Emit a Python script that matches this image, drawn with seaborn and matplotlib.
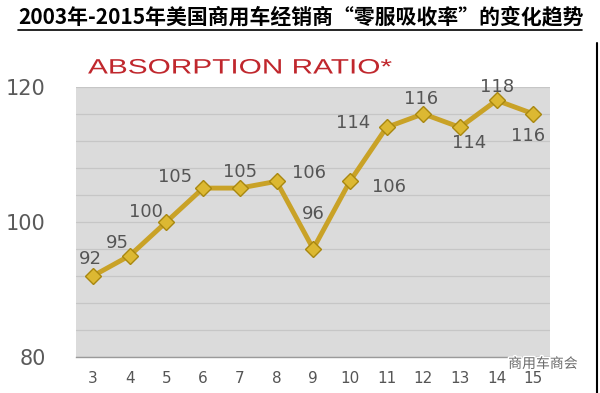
import matplotlib
matplotlib.use('Agg')
import numpy as np
import pandas as pd
import matplotlib.pyplot as plt
import seaborn as sns
from matplotlib import patheffects
from matplotlib.lines import Line2D
from matplotlib.transforms import Affine2D

# data
years = [3, 4, 5, 6, 7, 8, 9, 10, 11, 12, 13, 14, 15]
ratio = [92, 95, 100, 105, 105, 106, 96, 106, 114, 116, 114, 118, 116]
y_ticks = [80, 100, 120]
title_text = '2003年-2015年美国商用车经销商“零服吸收率”的变化趋势'
series_title = 'ABSORPTION RATIO*'
watermark = '商用车商会'

# where each value label sits relative to its point (pixels)
label_offsets = [(-3, 17), (-12, 13), (-21, 10), (-28, 11), (0, 16), (32, 8), (0, 35),
                 (39, -6), (-33, 4), (-2, 15), (9, -16), (0, 13), (-5, -22)]


class StretchX(patheffects.AbstractPathEffect):
    # the red heading uses a wide face, so stretch the glyphs sideways
    def __init__(self, sx):
        super().__init__()
        self.sx = sx

    def draw_path(self, renderer, gc, tpath, affine, rgbFace=None):
        x0, y0 = affine.transform((0, 0))
        stretch = Affine2D().translate(-x0, -y0).scale(self.sx, 1).translate(x0, y0)
        renderer.draw_path(gc, tpath, affine + stretch, rgbFace)


sns.set_theme(style='white')
plt.rcParams['font.family'] = ['DejaVu Sans']

fig = plt.figure(figsize=(6, 3.93), dpi=100)
ax = fig.add_axes([0.127, 0.092, 0.79, 0.687])
ax.set_facecolor('#dbdbdb')
for y in range(80, 121, 4):
    ax.axhline(y, color='#c6c6c6', lw=0.9, zorder=0)

df = pd.DataFrame({'year': years, 'ratio': ratio})
sns.lineplot(data=df, x='year', y='ratio', ax=ax, color='#c9a227', lw=3.5,
             marker='D', markersize=8, markerfacecolor='#dcb832',
             markeredgecolor='#a8870f', markeredgewidth=1)

for x, v, (dx, dy) in zip(years, ratio, label_offsets):
    ax.annotate(str(v), (x, v), xytext=(dx, dy), textcoords='offset pixels',
                ha='center', va='center', fontsize=13, color='#555555')

ax.set_xlim(2.54, 15.46)
ax.set_ylim(80, 120)
ax.set_xticks(years)
ax.set_yticks(y_ticks)
ax.set_xlabel('')
ax.set_ylabel('')
ax.tick_params(axis='y', labelsize=15, colors='#5a5a5a', length=0, pad=22)
ax.tick_params(axis='x', labelsize=11, colors='#555555', length=0, pad=10)
for s in ['top', 'right', 'left']:
    ax.spines[s].set_visible(False)
ax.spines['bottom'].set_color('#9a9a9a')
ax.spines['bottom'].set_linewidth(1)

cjk = ['Noto Sans CJK SC', 'DejaVu Sans']
fig.text(0.03, 0.958, title_text, fontsize=15, fontweight='bold', family=cjk,
         va='center', ha='left', color='black')
fig.add_artist(Line2D([0.03, 0.97], [0.924, 0.924], transform=fig.transFigure,
                      color='black', lw=1.2))
fig.text(88 / 600, 1 - 68 / 393, series_title, fontsize=15, color='#c0272d',
         family=['Liberation Sans'], va='center', ha='left',
         path_effects=[StretchX(1.43)])
fig.text(0.847, 0.074, watermark, fontsize=10, family=cjk, color='#6a6a6a',
         va='center', ha='left',
         path_effects=[patheffects.withStroke(linewidth=2, foreground='white')])
fig.add_artist(Line2D([0.995, 0.995], [0, 0.89], transform=fig.transFigure,
                      color='black', lw=1.5))

fig.savefig('out.png', dpi=100)
